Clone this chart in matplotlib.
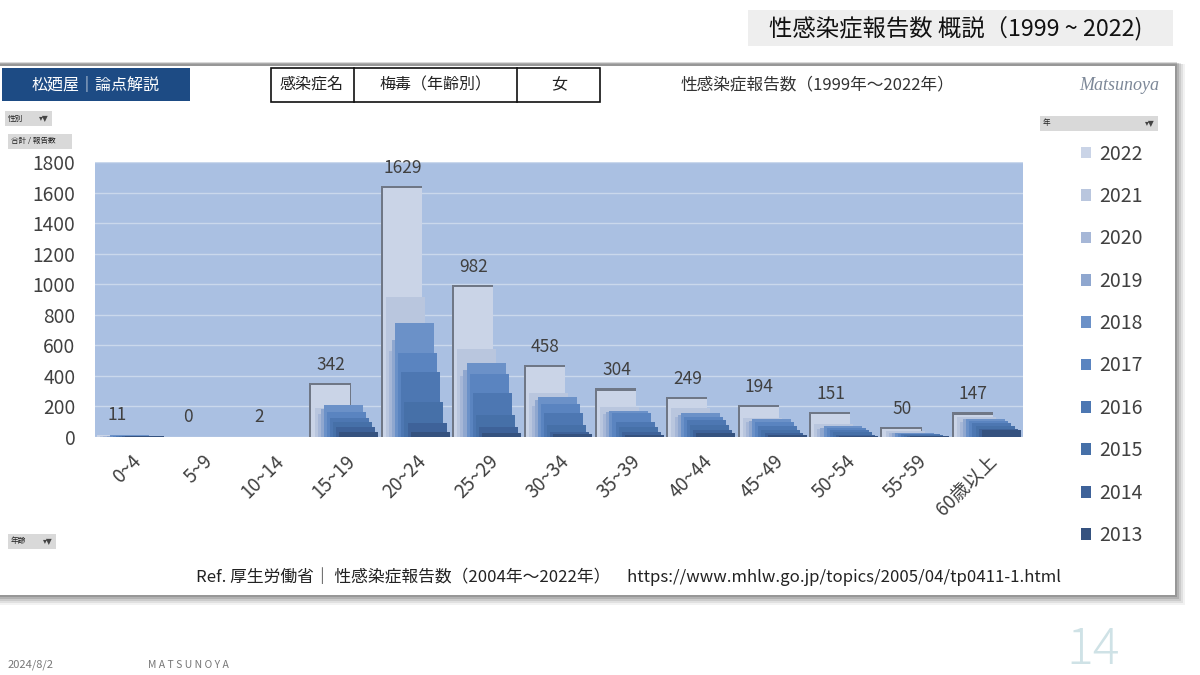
import matplotlib
matplotlib.use("Agg")
import matplotlib.pyplot as plt
from matplotlib.patches import Rectangle
import numpy as np

plt.rcParams['font.family'] = ['Noto Sans CJK JP', 'DejaVu Sans']

# ---------------- data ----------------
categories = ["0~4", "5~9", "10~14", "15~19", "20~24", "25~29", "30~34",
              "35~39", "40~44", "45~49", "50~54", "55~59", "60歳以上"]
years = [2022, 2021, 2020, 2019, 2018, 2017, 2016, 2015, 2014, 2013]
v2022 = [11, 0, 2, 342, 1629, 982, 458, 304, 249, 194, 151, 50, 147]
v2021 = [8, 0, 1, 190, 918, 574, 290, 198, 190, 125, 85, 38, 133]
v2020 = [7, 0, 1, 150, 560, 400, 200, 150, 130, 95, 55, 25, 100]
v2019 = [9, 0, 1, 181, 635, 438, 240, 165, 145, 105, 62, 28, 120]
v2018 = [10, 0, 1, 209, 748, 482, 260, 172, 159, 115, 72, 28, 116]
v2017 = [9, 0, 1, 166, 550, 412, 216, 155, 133, 100, 62, 22, 105]
v2016 = [8, 0, 1, 122, 427, 286, 155, 100, 111, 70, 45, 18, 90]
v2015 = [6, 0, 0, 100, 231, 144, 79, 67, 79, 45, 30, 12, 70]
v2014 = [5, 0, 0, 68, 92, 67, 35, 35, 46, 25, 15, 8, 50]
v2013 = [4, 0, 0, 35, 35, 26, 20, 13, 24, 10, 8, 5, 45]
series = [v2022, v2021, v2020, v2019, v2018, v2017, v2016, v2015, v2014, v2013]
colors = ['#cad4e7', '#b9c6de', '#a6b7d7', '#8fa7cf', '#6b91c8',
          '#5a84c0', '#4d77b2', '#4670a8', '#3e6299', '#35527f']
yticks = [0, 200, 400, 600, 800, 1000, 1200, 1400, 1600, 1800]

W, H = 1200, 675
fig = plt.figure(figsize=(12, 6.75), dpi=100)
fig.patch.set_facecolor('white')

def fx(x):
    return x / W

def fy(y):
    return 1 - y / H

def frect(x0, y0, x1, y1, **kw):
    kw.setdefault('zorder', -5)
    r = Rectangle((fx(x0), fy(y1)), fx(x1) - fx(x0), fy(y0) - fy(y1),
                  transform=fig.transFigure, **kw)
    fig.add_artist(r)
    return r

# title box
frect(748, 10, 1173, 46, facecolor='#eeeeee', edgecolor='none')
fig.text(fx(956), fy(29), "性感染症報告数 概説（1999 ~ 2022)", fontsize=16.8,
         ha='center', va='center', color='#111111')

# card shadow
for i, a in enumerate([0.05, 0.07, 0.09, 0.12, 0.15]):
    d = 10 - 2 * i
    frect(0, 64 - i * 0.4, 1175 + d, 595 + d, facecolor='#000000', alpha=a,
          edgecolor='none', zorder=-9 + i * 0.1)
frect(0, 66, 1175, 595, facecolor='white', edgecolor='none', zorder=-8)

# header boxes
frect(2, 68, 190, 101, facecolor='#1d4b84', edgecolor='none')
fig.text(fx(96), fy(85), "松廼屋｜論点解説", fontsize=11.5, color='white',
         ha='center', va='center')
frect(271, 68, 600, 102, facecolor='white', edgecolor='#111111', linewidth=1.2)
for xl in [354, 517]:
    fig.add_artist(plt.Line2D([fx(xl), fx(xl)], [fy(68), fy(102)],
                              transform=fig.transFigure, color='#111111', lw=1.2))
fig.text(fx(312), fy(85), "感染症名", fontsize=11.5, ha='center', va='center', color='#222222')
fig.text(fx(435), fy(85), "梅毒（年齢別）", fontsize=11.5, ha='center', va='center', color='#222222')
fig.text(fx(559), fy(85), "女", fontsize=11.5, ha='center', va='center', color='#222222')
fig.text(fx(817), fy(85), "性感染症報告数（1999年～2022年）", fontsize=12,
         ha='center', va='center', color='#333333')
fig.text(fx(1119), fy(86), "Matsunoya", fontsize=13, ha='center', va='center',
         color='#7d8898', family='Liberation Serif', style='italic')

# pivot buttons
def button(x0, y0, x1, y1, label, arrow=True):
    frect(x0, y0, x1, y1, facecolor='#d9d9d9', edgecolor='none')
    fig.text(fx(x0 + 3), fy((y0 + y1) / 2), label, fontsize=5.5, ha='left',
             va='center', color='#222222')
    if arrow:
        fig.text(fx(x1 - 3), fy((y0 + y1) / 2), "▾▼", fontsize=5.5, ha='right',
                 va='center', color='#444444', family=['DejaVu Sans'])

button(5, 111, 52, 126, "性別")
button(8, 134, 72, 149, "合計 / 報告数", arrow=False)
button(1040, 116, 1158, 131, "年")
button(8, 534, 56, 549, "年齢")

# ---------------- chart ----------------
ax = fig.add_axes([fx(95), fy(437), fx(1023) - fx(95), fy(162) - fy(437)])
ax.set_zorder(5)
ax.set_facecolor('#aac0e2')
ax.set_xlim(-0.5, len(categories) - 0.5)
ax.set_ylim(0, 1800)
ax.set_yticks(yticks)
ax.yaxis.grid(True, color='#cad8ec', linewidth=1.0)
ax.set_axisbelow(True)
for s in ax.spines.values():
    s.set_visible(False)

x = np.arange(len(categories))
bw = 0.546
step = 0.0434
span = bw + step * (len(years) - 1)
left0 = x - span / 2

# shadow behind the back (2022) bars
a2022 = np.array(v2022)
ax.bar(left0 - 0.028, np.where(a2022 > 20, a2022 + 14, 0), width=bw + 0.03,
       align='edge', color='#6f7786', zorder=2)
handles = []
for k, (vals, col) in enumerate(zip(series, colors)):
    h = ax.bar(left0 + k * step, vals, width=bw, align='edge', color=col,
               zorder=3 + k, label=str(years[k]))
    handles.append(h)

for xi, v in zip(left0 + bw / 2, v2022):
    ax.annotate(str(v), (xi, v), xytext=(0, 8), textcoords='offset points',
                ha='center', va='bottom', fontsize=12.5, color='#404040', zorder=20)

ax.set_xticks(x)
ax.set_xticklabels(categories, rotation=45, ha='right', rotation_mode='anchor',
                   fontsize=13.5, color='#404040')
ax.tick_params(axis='x', length=0, pad=10)
ax.tick_params(axis='y', length=0, pad=14, labelsize=13.8, labelcolor='#404040')

fig.legend(handles=handles, labels=[str(y) for y in years], loc='upper left',
           bbox_to_anchor=(fx(1063), fy(126)), frameon=False, fontsize=14,
           handlelength=0.55, handleheight=0.55, handletextpad=0.4,
           labelspacing=1.1, labelcolor='#404040')

# footer
fig.text(fx(628), fy(577),
         "Ref. 厚生労働省｜ 性感染症報告数（2004年～2022年）　https://www.mhlw.go.jp/topics/2005/04/tp0411-1.html",
         fontsize=12.1, ha='center', va='center', color='#222222')
fig.text(fx(8), fy(665), "2024/8/2", fontsize=8, ha='left', va='center', color='#777777')
fig.text(fx(148), fy(665), "M A T S U N O Y A", fontsize=7.5, ha='left', va='center', color='#777777')
fig.text(fx(1093), fy(650), "14", fontsize=36, ha='center', va='center',
         color='#cfe2e6', fontweight='light')

fig.savefig("out.png", dpi=100)
